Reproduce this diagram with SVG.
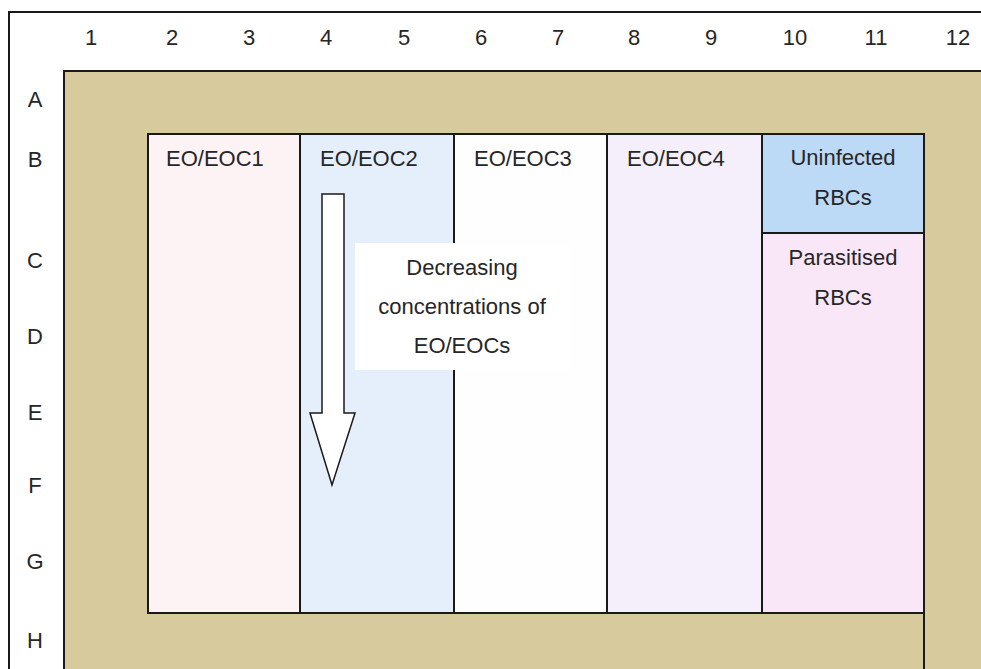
<svg xmlns="http://www.w3.org/2000/svg" width="981" height="669" viewBox="0 0 981 669">
<style>
text{font-family:"Liberation Sans",Arial,sans-serif;font-size:22px;fill:#262626}
.lab{text-anchor:middle}
.line{stroke:#1a1a1a;stroke-width:2;fill:none}
.bd{stroke:#1a1a1a;stroke-width:2}
</style>
<rect x="0" y="0" width="981" height="669" fill="#ffffff"/>
<g id="frame">
<path class="line" d="M9,669 V12 H981"/>
</g>
<g id="plate">
<rect x="64" y="71" width="917" height="598" fill="#d7cb9e"/>
<path class="line" d="M64,669 V71 H981"/>
</g>
<g id="col-labels">
<text x="91" y="45" class="lab">1</text>
<text x="172" y="45" class="lab">2</text>
<text x="249" y="45" class="lab">3</text>
<text x="326" y="45" class="lab">4</text>
<text x="404" y="45" class="lab">5</text>
<text x="481" y="45" class="lab">6</text>
<text x="558" y="45" class="lab">7</text>
<text x="634" y="45" class="lab">8</text>
<text x="711" y="45" class="lab">9</text>
<text x="795" y="45" class="lab">10</text>
<text x="876" y="45" class="lab">11</text>
<text x="958" y="45" class="lab">12</text>
</g>
<g id="row-labels">
<text x="35" y="107" class="lab">A</text>
<text x="35" y="167" class="lab">B</text>
<text x="35" y="268" class="lab">C</text>
<text x="35" y="344" class="lab">D</text>
<text x="35" y="420" class="lab">E</text>
<text x="35" y="493" class="lab">F</text>
<text x="35" y="569" class="lab">G</text>
<text x="35" y="648" class="lab">H</text>
</g>
<g id="col1">
<rect x="148" y="134" width="152" height="479" fill="#fdf2f4" class="bd"/>
<text x="166" y="166">EO/EOC1</text>
</g>
<g id="col2">
<rect x="300" y="134" width="154" height="479" fill="#e5effb" class="bd"/>
<text x="320" y="166">EO/EOC2</text>
</g>
<g id="col3">
<rect x="454" y="134" width="153" height="479" fill="#fefefe" class="bd"/>
<text x="474" y="166">EO/EOC3</text>
</g>
<g id="col4">
<rect x="607" y="134" width="155" height="479" fill="#f5effb" class="bd"/>
<text x="627" y="166">EO/EOC4</text>
</g>
<g id="uninfected">
<rect x="762" y="134" width="162" height="99" fill="#bcd9f5" class="bd"/>
<text x="843" y="165" class="lab">Uninfected</text>
<text x="843" y="205" class="lab">RBCs</text>
</g>
<g id="parasitised">
<rect x="762" y="233" width="162" height="380" fill="#f9e6f7" class="bd"/>
<text x="843" y="265" class="lab">Parasitised</text>
<text x="843" y="305" class="lab">RBCs</text>
</g>
<path class="line" d="M924,613 V669"/>
<g id="connectors">
<path d="M322,194 H344 V413 H355 L332,485 L310,413 H322 Z" fill="#ffffff" stroke="#1a1a1a" stroke-width="1.5"/>
</g>
<g id="note">
<rect x="355" y="243" width="216" height="127" fill="#ffffff"/>
<text x="462" y="275" class="lab">Decreasing</text>
<text x="462" y="314" class="lab">concentrations of</text>
<text x="462" y="353" class="lab">EO/EOCs</text>
</g>
</svg>
